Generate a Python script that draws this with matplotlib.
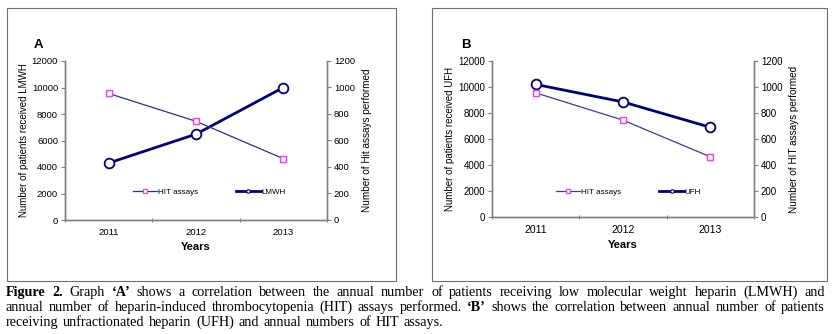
import matplotlib.pyplot as plt
from matplotlib.lines import Line2D
from matplotlib.patches import Rectangle

years = ['2011', '2012', '2013']
hit_assays = [955, 745, 463]
lmwh_patients = [4300, 6480, 10000]
ufh_patients = [10200, 8850, 6900]

left_ticks = [0, 2000, 4000, 6000, 8000, 10000, 12000]
right_ticks = [0, 200, 400, 600, 800, 1000, 1200]

caption_lines = [
    "Figure 2. Graph ‘A’ shows a correlation between the annual number of patients receiving low molecular weight heparin (LMWH) and",
    "annual number of heparin-induced thrombocytopenia (HIT) assays performed. ‘B’ shows the correlation between annual number of patients",
    "receiving unfractionated heparin (UFH) and annual numbers of HIT assays.",
]
bold_words = {"Figure", "2.", "‘A’", "‘B’"}

W, H = 832, 334
SANS = 'Liberation Sans'
SERIF = 'Liberation Serif'
GRAY = '#808080'
NAVY = '#000080'
THIN = '#2e2e96'
MAGENTA = '#ff33ff'

fig = plt.figure(figsize=(W / 100, H / 100), dpi=100)


def fx(px):
    return px / W


def fy(py):
    return 1 - py / H


# panel frames
for x0, x1 in [(7.5, 395.5), (431.5, 826.5)]:
    fig.add_artist(Rectangle((fx(x0), fy(280.5)), fx(x1 - x0), (280.5 - 7.5) / H,
                             transform=fig.transFigure, fill=False,
                             edgecolor='#6e6e6e', lw=0.8))


def panel(box, letter, patients, patient_label, hit_label, series_name, tick_fs, xtick_fs,
          leg_xy, hit_color):
    ax = fig.add_axes(box)
    x = range(len(years))
    ax2 = ax.twinx()

    ax.plot(x, patients, color=NAVY, lw=2.0, marker='o', ms=7, mfc='white',
            mec=NAVY, mew=1.3, zorder=3)
    ax2.plot(x, hit_assays, color=hit_color, lw=0.9, marker='s', ms=4.3, mfc='white',
             mec=MAGENTA, mew=1.0, zorder=3)

    ax.set_xlim(-0.5, 2.5)
    ax.set_ylim(0, 12000)
    ax2.set_ylim(0, 1200)
    ax.set_yticks(left_ticks)
    ax2.set_yticks(right_ticks)
    ax.set_xticks([-0.5, 0.5, 1.5, 2.5])
    ax.set_xticklabels([])
    ax.set_xticks(list(x), minor=True)
    ax.set_xticklabels(years, minor=True, fontsize=xtick_fs, family=SANS)
    ax.tick_params(axis='x', which='minor', length=0, pad=6)
    ax.tick_params(axis='x', which='major', length=3, direction='inout', color=GRAY)
    ax.tick_params(axis='y', length=3, color=GRAY, labelsize=tick_fs, pad=2)
    ax2.tick_params(axis='y', length=3, color=GRAY, labelsize=tick_fs, pad=2)
    for lab in ax.get_yticklabels() + ax2.get_yticklabels():
        lab.set_family(SANS)

    for a in (ax, ax2):
        a.spines['top'].set_visible(False)
        for s in ('left', 'right', 'bottom'):
            a.spines[s].set_color(GRAY)
            a.spines[s].set_linewidth(1.0)

    ax.set_ylabel(patient_label, fontsize=7.0, family=SANS, labelpad=2)
    ax2.set_ylabel(hit_label, fontsize=7.2, family=SANS, labelpad=5)
    ax.set_xlabel('Years', fontsize=8, family=SANS, fontweight='bold', labelpad=3)
    ax.text(-0.1, 1.1, letter, transform=ax.transAxes, fontsize=9.5, family=SANS,
            fontweight='bold', ha='center', va='center')

    handles = [
        Line2D([], [], color=hit_color, lw=0.9, marker='s', ms=2.5, mfc='white', mec=MAGENTA, mew=0.8),
        Line2D([], [], color=NAVY, lw=2.0, marker='o', ms=2.5, mfc='white', mec=NAVY, mew=0.8),
    ]
    ax2.legend(handles, ['HIT assays', series_name], loc='center', bbox_to_anchor=leg_xy,
               ncol=2, frameon=False, prop={'family': SANS, 'size': 5.8},
               handlelength=3.0, handletextpad=0.1, columnspacing=4.8)
    return ax


panel([fx(65), fy(220), fx(327 - 65), (220 - 61) / H], 'A', lmwh_patients,
      'Number of patients received LMWH', 'Number of Hit assays performed', 'LMWH',
      6.8, 6.8, (0.55, 0.175), THIN)
panel([fx(492), fy(217), fx(754 - 492), (217 - 61) / H], 'B', ufh_patients,
      'Number of patients received UFH', 'Number of HIT assays performed', 'UFH',
      7.0, 7.6, (0.52, 0.16), '#3a3aa8')

# caption, justified word by word
renderer = fig.canvas.get_renderer()
baselines = [296, 311, 326]
x_left, x_right = 6, 825
CAP_FS = 10.2
for i, line in enumerate(caption_lines):
    words = line.split(' ')
    texts = []
    for w in words:
        t = fig.text(0, fy(baselines[i]), w, fontsize=CAP_FS, family=SERIF,
                     fontweight='bold' if w in bold_words else 'normal', va='baseline')
        texts.append(t)
    widths = [t.get_window_extent(renderer).width for t in texts]
    if i < len(caption_lines) - 1:
        gap = (x_right - x_left - sum(widths)) / (len(words) - 1)
    else:
        gap = CAP_FS * 100 / 72 * 0.25 + 1
    pos = x_left
    for t, w in zip(texts, widths):
        t.set_x(fx(pos))
        pos += w + gap

fig.savefig('out.png', dpi=100)
